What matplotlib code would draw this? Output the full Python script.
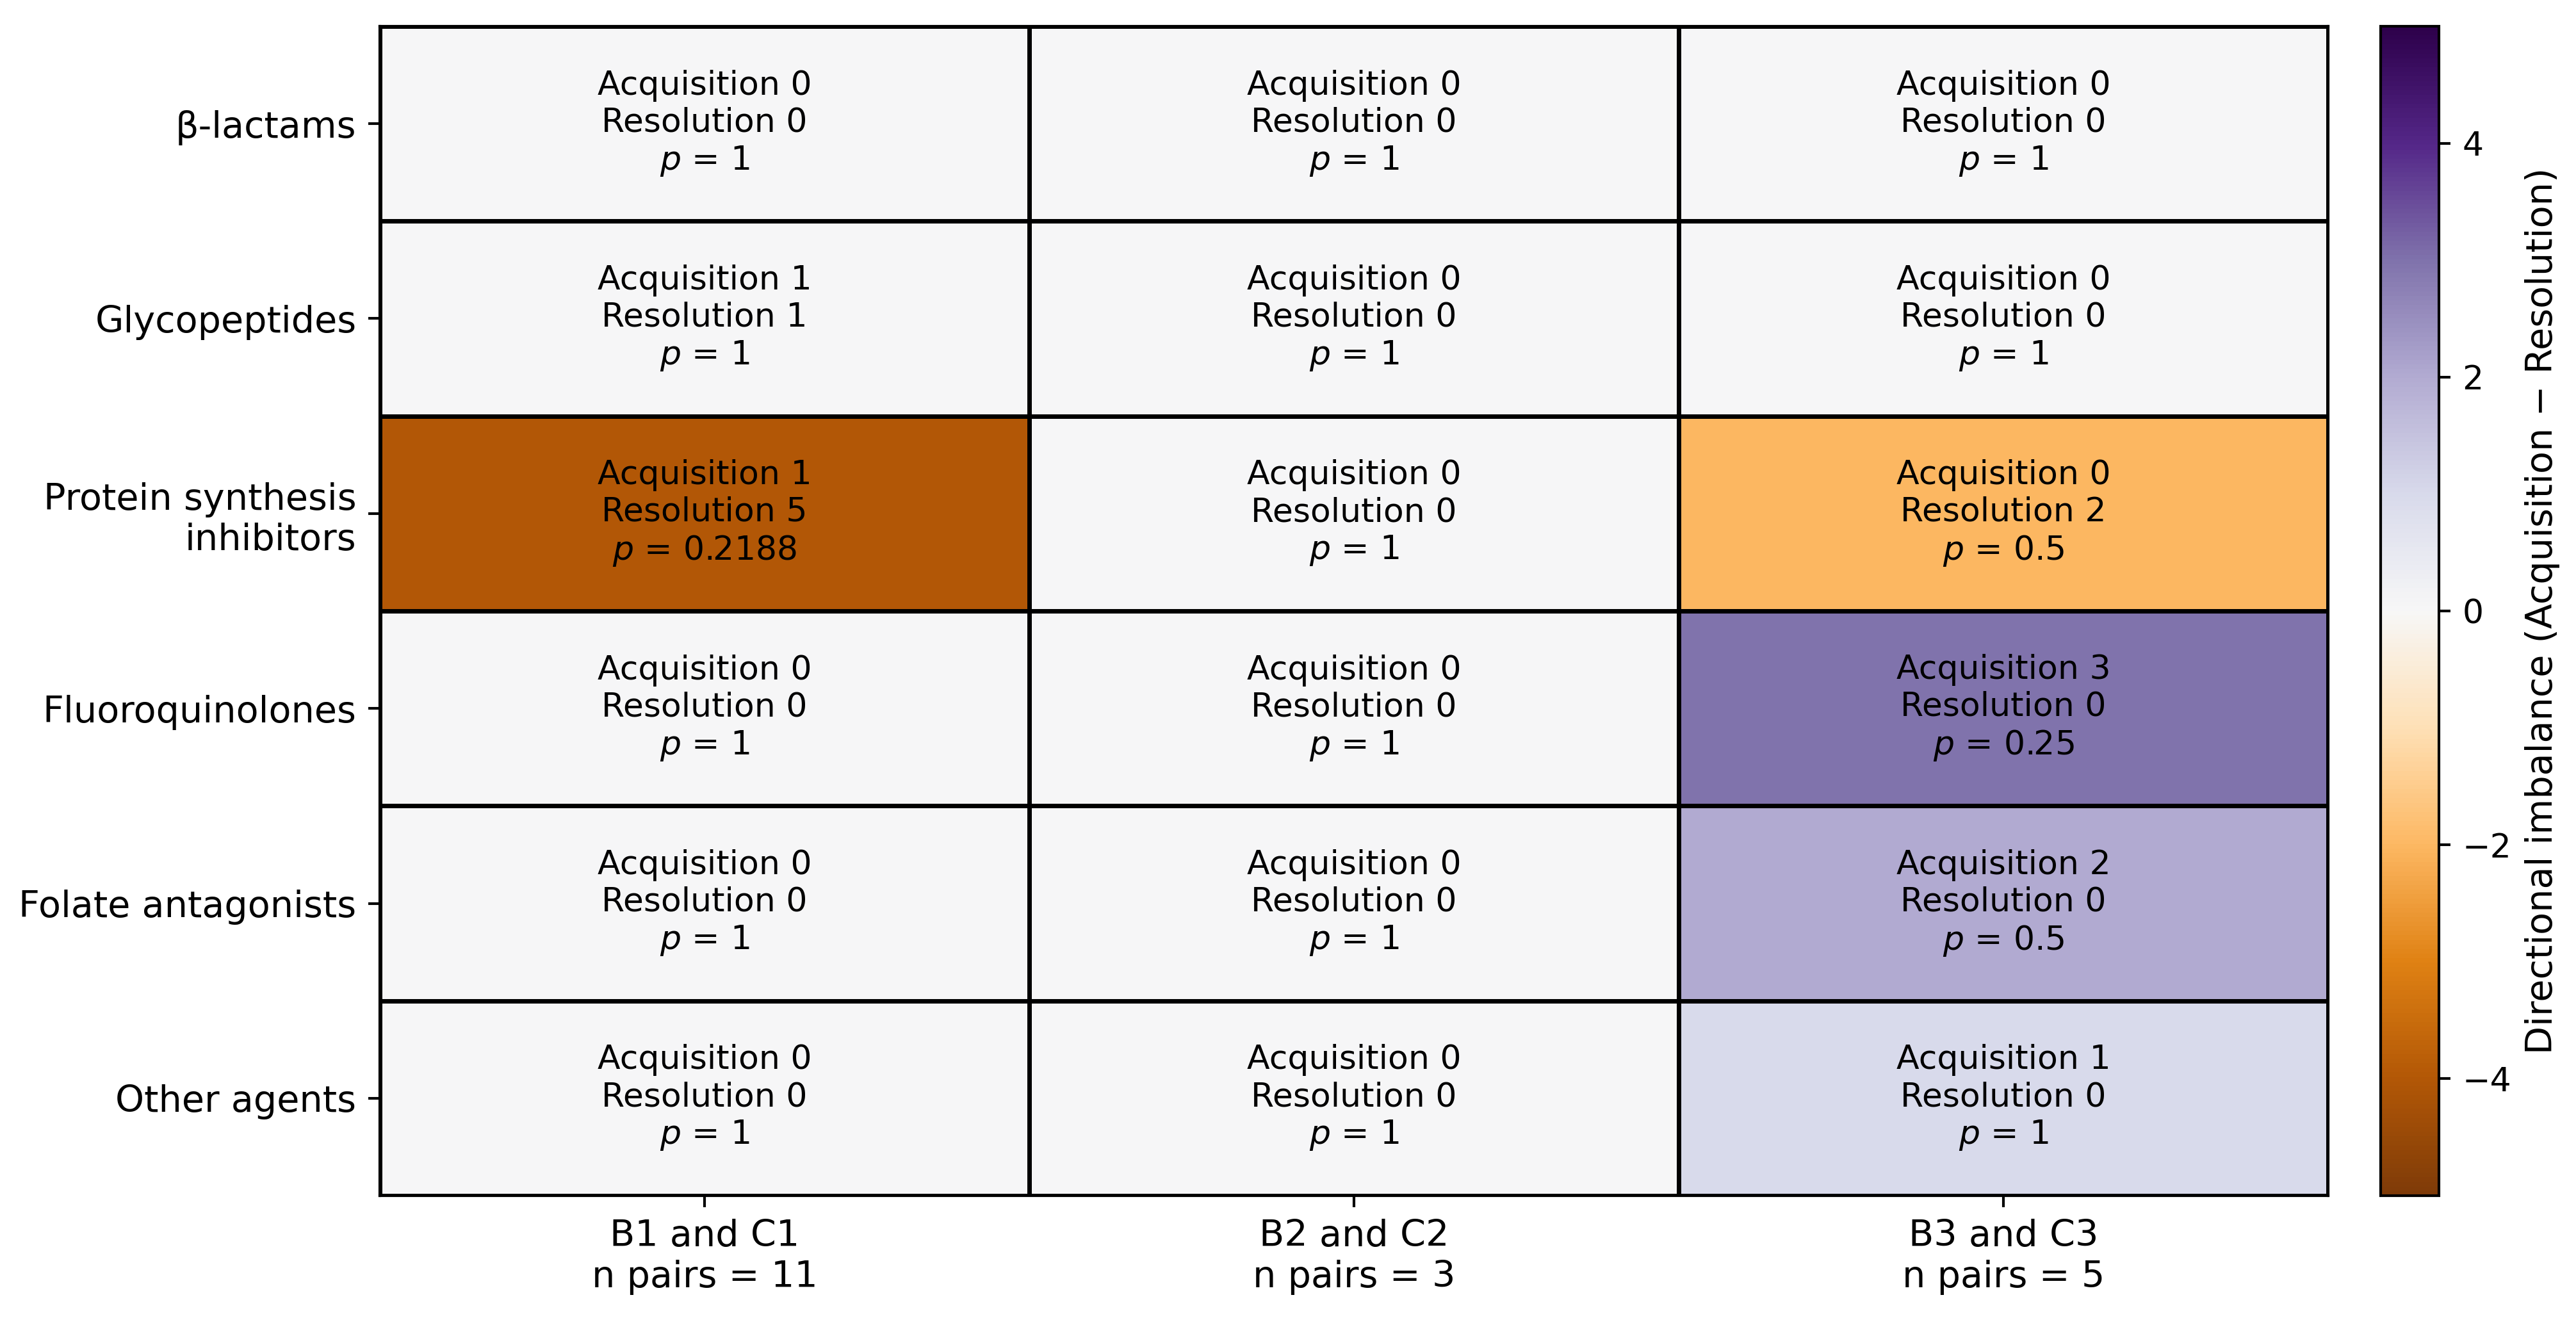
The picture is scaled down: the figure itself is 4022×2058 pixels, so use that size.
import numpy as np
import matplotlib
matplotlib.use("Agg")
import matplotlib.pyplot as plt

rows = ["β-lactams", "Glycopeptides", "Protein synthesis\ninhibitors",
        "Fluoroquinolones", "Folate antagonists", "Other agents"]
cols = ["B1 and C1\nn pairs = 11", "B2 and C2\nn pairs = 3", "B3 and C3\nn pairs = 5"]

acquisition = [
    [0, 0, 0],
    [1, 0, 0],
    [1, 0, 0],
    [0, 0, 3],
    [0, 0, 2],
    [0, 0, 1],
]
resolution = [
    [0, 0, 0],
    [1, 0, 0],
    [5, 0, 2],
    [0, 0, 0],
    [0, 0, 0],
    [0, 0, 0],
]
p_values = [
    [1, 1, 1],
    [1, 1, 1],
    [0.2188, 1, 0.5],
    [1, 1, 0.25],
    [1, 1, 0.5],
    [1, 1, 1],
]

acq = np.array(acquisition)
res = np.array(resolution)
diff = acq - res

DPI = 375
fig = plt.figure(figsize=(4022 / DPI, 2058 / DPI), dpi=DPI)
ax = fig.add_axes([0.1474, 0.0928, 0.9038 - 0.1474, 0.9801 - 0.0928])
cax = fig.add_axes([0.9242, 0.0928, 0.0226, 0.9801 - 0.0928])

nr, nc = diff.shape
mesh = ax.pcolormesh(np.arange(nc + 1), np.arange(nr + 1), diff, cmap="PuOr",
                     vmin=-5, vmax=5, edgecolors="black", linewidth=1.0)
ax.set_xlim(0, nc)
ax.set_ylim(nr, 0)

for i in range(nr):
    for j in range(nc):
        txt = f"Acquisition {acq[i, j]}\nResolution {res[i, j]}\n$p$ = {p_values[i][j]:g}"
        ax.text(j + 0.5, i + 0.5, txt, ha="center", va="center", fontsize=10,
                color="black")

ax.set_xticks(np.arange(nc) + 0.5)
ax.set_xticklabels(cols, fontsize=11)
ax.set_yticks(np.arange(nr) + 0.5)
ax.set_yticklabels(rows, fontsize=11)

cb = fig.colorbar(mesh, cax=cax)
cb.set_ticks([-4, -2, 0, 2, 4])
cb.ax.tick_params(labelsize=10)
cb.set_label("Directional imbalance (Acquisition − Resolution)", fontsize=11)

fig.savefig("out.png", dpi=DPI)
